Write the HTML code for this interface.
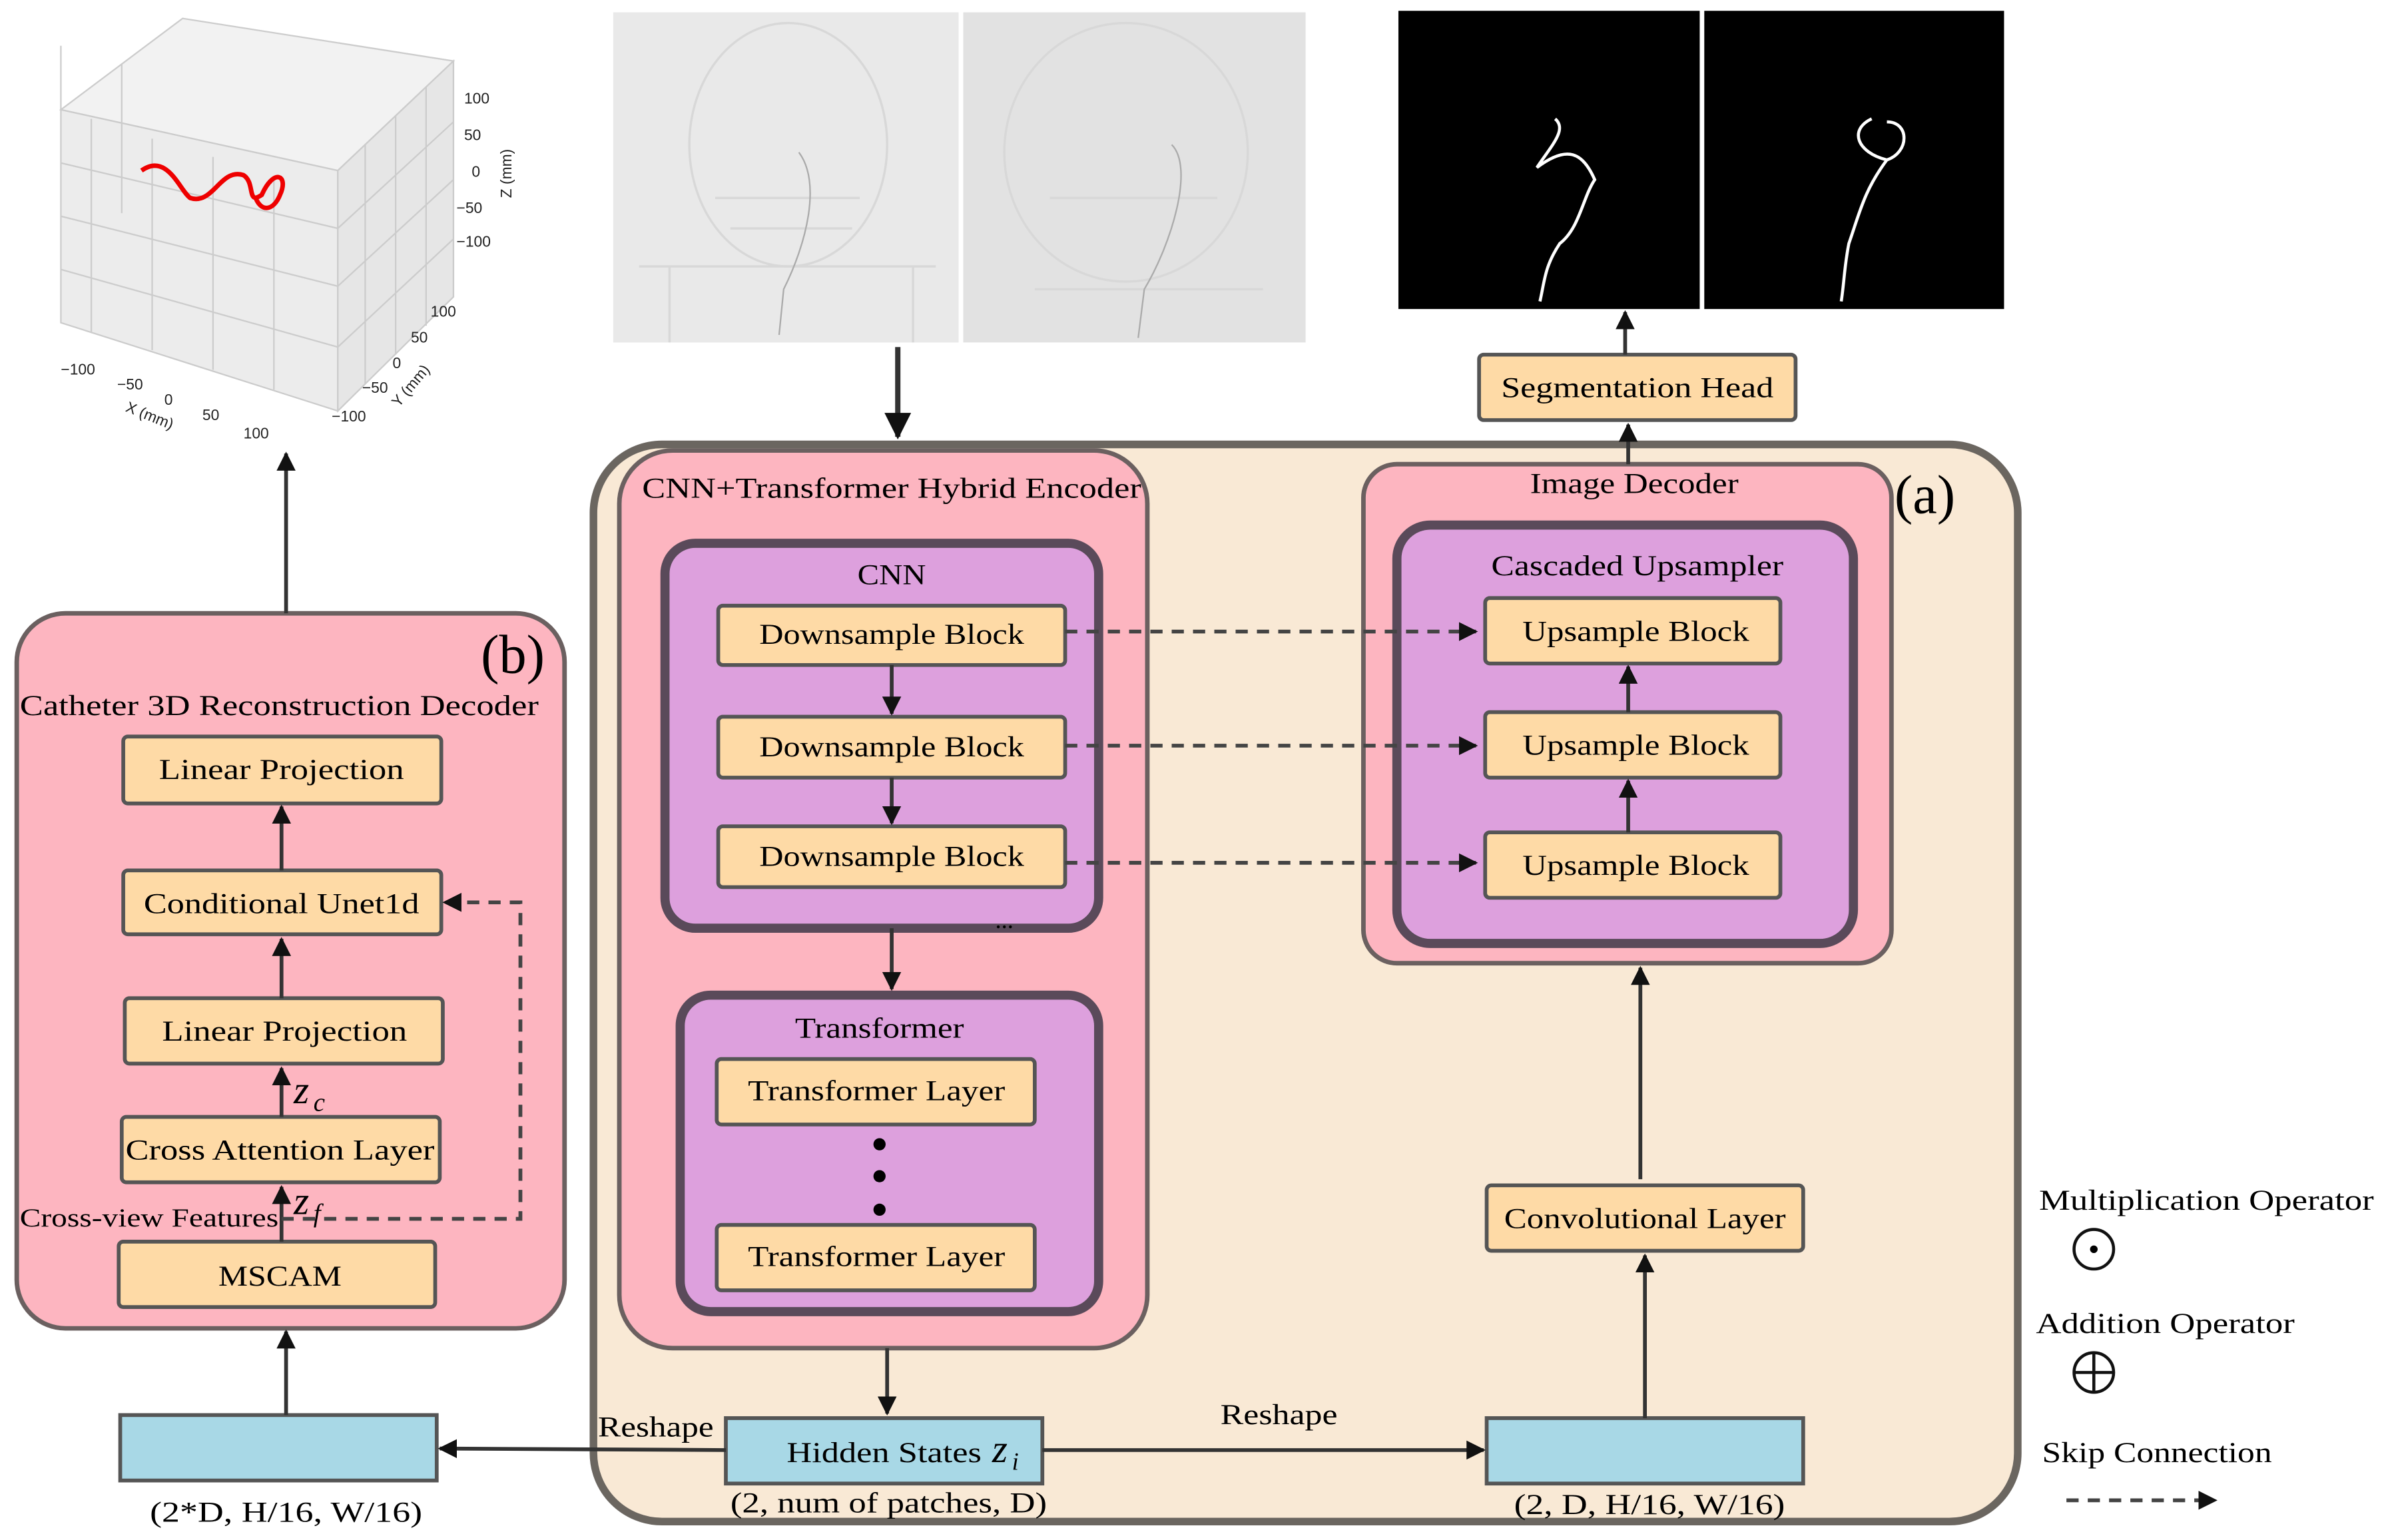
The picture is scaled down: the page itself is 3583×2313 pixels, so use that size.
<!DOCTYPE html>
<html><head><meta charset="utf-8"><style>
html,body{margin:0;padding:0;background:#fff;}
svg{display:block;}
text{font-family:"Liberation Serif",serif;}
</style></head><body>
<svg width="3583" height="2313" viewBox="0 0 1568 1012" xmlns="http://www.w3.org/2000/svg">
<defs>
<marker id="ah" viewBox="0 0 10 10" refX="9" refY="5" markerWidth="5" markerHeight="5" orient="auto"><path d="M0,0L10,5L0,10z" fill="#111"/></marker>
</defs>
<rect width="1568" height="1012" fill="#fff"/>

<!-- 3D plot -->
<g stroke="#ccc" stroke-width="1" fill="none">
<polygon points="40,72 120,12 298,40 222,112" fill="#f2f2f2"/>
<polygon points="40,72 40,212 222,270 222,112" fill="#ececec"/>
<polygon points="222,112 298,40 298,195 222,270" fill="#e6e6e6"/>
<line x1="60" y1="78" x2="60" y2="218"/><line x1="100" y1="91" x2="100" y2="230"/><line x1="140" y1="103" x2="140" y2="243"/><line x1="180" y1="116" x2="180" y2="256"/>
<line x1="40" y1="107" x2="222" y2="150"/><line x1="40" y1="142" x2="222" y2="188"/><line x1="40" y1="177" x2="222" y2="228"/>
<line x1="240" y1="95" x2="240" y2="252"/><line x1="260" y1="76" x2="260" y2="233"/><line x1="280" y1="57" x2="280" y2="214"/>
<line x1="222" y1="150" x2="298" y2="80"/><line x1="222" y1="188" x2="298" y2="118"/><line x1="222" y1="228" x2="298" y2="157"/>
<line x1="40" y1="72" x2="40" y2="30" /><line x1="80" y1="42" x2="80" y2="140"/>
</g>
<path d="M93,112 C110,100 118,125 125,130 C140,135 145,110 160,115 C168,120 162,135 172,128 C180,110 190,115 184,128 C180,138 172,140 168,130" stroke="#e00" stroke-width="3" fill="none"/>
<g font-size="10" fill="#222">
<text x="305" y="68" style="font-family:'Liberation Sans'">100</text><text x="305" y="92" style="font-family:'Liberation Sans'">50</text><text x="310" y="116" style="font-family:'Liberation Sans'">0</text><text x="300" y="140" style="font-family:'Liberation Sans'">−50</text><text x="300" y="162" style="font-family:'Liberation Sans'">−100</text>
<text x="40" y="246" style="font-family:'Liberation Sans'">−100</text><text x="77" y="256" style="font-family:'Liberation Sans'">−50</text><text x="108" y="266" style="font-family:'Liberation Sans'">0</text><text x="133" y="276" style="font-family:'Liberation Sans'">50</text><text x="160" y="288" style="font-family:'Liberation Sans'">100</text>
<text x="283" y="208" style="font-family:'Liberation Sans'">100</text><text x="270" y="225" style="font-family:'Liberation Sans'">50</text><text x="258" y="242" style="font-family:'Liberation Sans'">0</text><text x="238" y="258" style="font-family:'Liberation Sans'">−50</text><text x="218" y="277" style="font-family:'Liberation Sans'">−100</text>
<text x="82" y="270" transform="rotate(22 82 270)" style="font-family:'Liberation Sans'">X (mm)</text>
<text x="262" y="268" transform="rotate(-50 262 268)" style="font-family:'Liberation Sans'">Y (mm)</text>
<text x="336" y="130" transform="rotate(-90 336 130)" style="font-family:'Liberation Sans'">Z (mm)</text>
</g>

<!-- xray images -->
<rect x="403" y="8" width="227" height="217" fill="#e9e9e9"/>
<rect x="633" y="8" width="225" height="217" fill="#e2e2e2"/>
<g stroke="#d8d8d8" stroke-width="1.5" fill="none">
<ellipse cx="518" cy="95" rx="65" ry="80"/><path d="M440,175 L440,225 M600,175 L600,225 M420,175 L615,175"/>
<ellipse cx="740" cy="100" rx="80" ry="85"/><path d="M680,190 L830,190"/>
<path d="M470,130 L565,130 M480,150 L560,150 M690,130 L800,130"/>
</g>
<path d="M525,100 C540,120 530,160 515,190 L512,220" stroke="#aaa" fill="none"/>
<path d="M770,95 C785,110 770,160 752,190 L748,222" stroke="#aaa" fill="none"/>

<!-- masks -->
<rect x="919" y="7" width="198" height="196" fill="#000"/>
<rect x="1120" y="7" width="197" height="196" fill="#000"/>
<path d="M1022,78 C1030,85 1020,95 1010,110 C1030,95 1040,100 1048,118 C1040,130 1038,150 1025,160 C1015,175 1015,185 1012,198" stroke="#fff" stroke-width="2" fill="none"/>
<path d="M1230,78 C1215,85 1220,100 1240,105 C1255,100 1255,80 1240,80 M1240,105 C1225,125 1222,140 1215,160 C1212,175 1212,185 1210,198" stroke="#fff" stroke-width="2" fill="none"/>

<!-- big panel a -->
<rect x="390" y="292" width="936" height="708" rx="45" fill="#f9e9d5" stroke="#6b6660" stroke-width="5"/>
<text x="1245" y="337" font-size="36">(a)</text>

<!-- encoder -->
<rect x="407" y="296" width="347" height="590" rx="35" fill="#fdb5c0" stroke="#6b6060" stroke-width="3"/>
<text x="422" y="327" font-size="19" textLength="328" lengthAdjust="spacingAndGlyphs">CNN+Transformer Hybrid Encoder</text>
<rect x="437" y="357" width="285" height="253" rx="20" fill="#dda0dd" stroke="#5a4a5a" stroke-width="6"/>
<text x="586" y="384" font-size="19" text-anchor="middle" textLength="45" lengthAdjust="spacingAndGlyphs">CNN</text>
<g fill="#fedaa6" stroke="#555" stroke-width="2.5">
<rect x="472" y="398" width="228" height="39" rx="3"/>
<rect x="472" y="471" width="228" height="40" rx="3"/>
<rect x="472" y="543" width="228" height="40" rx="3"/>
</g>
<g font-size="19" text-anchor="middle">
<text x="586" y="423" textLength="174" lengthAdjust="spacingAndGlyphs">Downsample Block</text><text x="586" y="497" textLength="174" lengthAdjust="spacingAndGlyphs">Downsample Block</text><text x="586" y="569" textLength="174" lengthAdjust="spacingAndGlyphs">Downsample Block</text>
</g>
<text x="660" y="610" font-size="16" text-anchor="middle">...</text>
<rect x="447" y="654" width="275" height="208" rx="20" fill="#dda0dd" stroke="#5a4a5a" stroke-width="6"/>
<text x="578" y="682" font-size="19" text-anchor="middle" textLength="111" lengthAdjust="spacingAndGlyphs">Transformer</text>
<g fill="#fedaa6" stroke="#555" stroke-width="2.5">
<rect x="471" y="696" width="209" height="43" rx="3"/>
<rect x="471" y="805" width="209" height="43" rx="3"/>
</g>
<text x="576" y="723" font-size="19" text-anchor="middle" textLength="169" lengthAdjust="spacingAndGlyphs">Transformer Layer</text>
<text x="576" y="832" font-size="19" text-anchor="middle" textLength="169" lengthAdjust="spacingAndGlyphs">Transformer Layer</text>
<circle cx="578" cy="752" r="4"/><circle cx="578" cy="773" r="4"/><circle cx="578" cy="795" r="4"/>

<!-- hidden states -->
<rect x="477" y="932" width="208" height="43" fill="#a8d8e6" stroke="#555" stroke-width="2.5"/>
<text x="517" y="961" font-size="19" textLength="128" lengthAdjust="spacingAndGlyphs">Hidden States</text>
<text x="652" y="961" font-size="26" font-style="italic">z</text><text x="665" y="966" font-size="16" font-style="italic">i</text>
<text x="480" y="994" font-size="19" textLength="208" lengthAdjust="spacingAndGlyphs">(2, num of patches, D)</text>
<text x="393" y="944" font-size="19" textLength="76" lengthAdjust="spacingAndGlyphs">Reshape</text>
<text x="802" y="936" font-size="19" textLength="77" lengthAdjust="spacingAndGlyphs">Reshape</text>

<!-- decoder -->
<rect x="896" y="305" width="347" height="328" rx="22" fill="#fdb5c0" stroke="#6b6060" stroke-width="3"/>
<text x="1074" y="324" font-size="19" text-anchor="middle" textLength="137" lengthAdjust="spacingAndGlyphs">Image Decoder</text>
<rect x="918" y="345" width="300" height="275" rx="22" fill="#dda0dd" stroke="#5a4a5a" stroke-width="6"/>
<text x="1076" y="378" font-size="19" text-anchor="middle" textLength="192" lengthAdjust="spacingAndGlyphs">Cascaded Upsampler</text>
<g fill="#fedaa6" stroke="#555" stroke-width="2.5">
<rect x="976" y="393" width="194" height="43" rx="3"/>
<rect x="976" y="468" width="194" height="43" rx="3"/>
<rect x="976" y="547" width="194" height="43" rx="3"/>
<rect x="972" y="233" width="208" height="43" rx="3"/>
<rect x="977" y="779" width="208" height="43" rx="3"/>
</g>
<g font-size="19" text-anchor="middle">
<text x="1075" y="421" textLength="149" lengthAdjust="spacingAndGlyphs">Upsample Block</text><text x="1075" y="496" textLength="149" lengthAdjust="spacingAndGlyphs">Upsample Block</text><text x="1075" y="575" textLength="149" lengthAdjust="spacingAndGlyphs">Upsample Block</text>
<text x="1076" y="261" textLength="179" lengthAdjust="spacingAndGlyphs">Segmentation Head</text><text x="1081" y="807" textLength="185" lengthAdjust="spacingAndGlyphs">Convolutional Layer</text>
</g>
<rect x="977" y="932" width="208" height="43" fill="#a8d8e6" stroke="#555" stroke-width="2.5"/>
<text x="1084" y="995" font-size="19" text-anchor="middle" textLength="178" lengthAdjust="spacingAndGlyphs">(2, D, H/16, W/16)</text>

<!-- panel b -->
<rect x="11" y="403" width="360" height="470" rx="32" fill="#fdb5c0" stroke="#6b6060" stroke-width="3"/>
<text x="316" y="442" font-size="36">(b)</text>
<text x="13" y="470" font-size="19" textLength="341" lengthAdjust="spacingAndGlyphs">Catheter 3D Reconstruction Decoder</text>
<g fill="#fedaa6" stroke="#555" stroke-width="2.5">
<rect x="81" y="484" width="209" height="44" rx="3"/>
<rect x="81" y="572" width="209" height="42" rx="3"/>
<rect x="82" y="656" width="209" height="43" rx="3"/>
<rect x="80" y="734" width="209" height="43" rx="3"/>
<rect x="78" y="816" width="208" height="43" rx="3"/>
</g>
<g font-size="19" text-anchor="middle">
<text x="185" y="512" textLength="161" lengthAdjust="spacingAndGlyphs">Linear Projection</text><text x="185" y="600" textLength="181" lengthAdjust="spacingAndGlyphs">Conditional Unet1d</text><text x="187" y="684" textLength="161" lengthAdjust="spacingAndGlyphs">Linear Projection</text><text x="184" y="762" textLength="203" lengthAdjust="spacingAndGlyphs">Cross Attention Layer</text><text x="184" y="845" textLength="81" lengthAdjust="spacingAndGlyphs">MSCAM</text>
</g>
<text x="13" y="806" font-size="17" textLength="170" lengthAdjust="spacingAndGlyphs">Cross-view Features</text>
<text x="193" y="725" font-size="26" font-style="italic">z</text><text x="206" y="730" font-size="17" font-style="italic">c</text>
<text x="193" y="798" font-size="26" font-style="italic">z</text><text x="206" y="803" font-size="17" font-style="italic">f</text>
<rect x="79" y="930" width="208" height="43" fill="#a8d8e6" stroke="#555" stroke-width="2.5"/>
<text x="188" y="1000" font-size="19" text-anchor="middle" textLength="179" lengthAdjust="spacingAndGlyphs">(2*D, H/16, W/16)</text>

<!-- solid arrows -->
<g stroke="#333" stroke-width="2.5" fill="none" marker-end="url(#ah)">
<line x1="590" y1="228" x2="590" y2="287" stroke-width="3.5"/>
<line x1="586" y1="437" x2="586" y2="469"/>
<line x1="586" y1="511" x2="586" y2="541"/>
<line x1="586" y1="610" x2="586" y2="650"/>
<line x1="583" y1="886" x2="583" y2="929"/>
<line x1="685" y1="953" x2="975" y2="953"/>
<line x1="477" y1="953" x2="289" y2="952"/>
<line x1="1081" y1="932" x2="1081" y2="825"/>
<line x1="1078" y1="775" x2="1078" y2="636"/>
<line x1="1070" y1="305" x2="1070" y2="279"/>
<line x1="1068" y1="233" x2="1068" y2="205"/>
<line x1="1070" y1="547" x2="1070" y2="513"/>
<line x1="1070" y1="468" x2="1070" y2="438"/>
<line x1="188" y1="930" x2="188" y2="875"/>
<line x1="188" y1="403" x2="188" y2="298"/>
<line x1="185" y1="816" x2="185" y2="780"/>
<line x1="185" y1="734" x2="185" y2="702"/>
<line x1="185" y1="656" x2="185" y2="617"/>
<line x1="185" y1="572" x2="185" y2="530"/>
</g>
<!-- dashed -->
<g stroke="#444" stroke-width="2.5" fill="none" stroke-dasharray="8,6" marker-end="url(#ah)">
<line x1="700" y1="415" x2="970" y2="415"/>
<line x1="700" y1="490" x2="970" y2="490"/>
<line x1="700" y1="567" x2="970" y2="567"/>
<polyline points="185,801 342,801 342,593 292,593"/>
<line x1="1358" y1="986" x2="1456" y2="986"/>
</g>

<!-- legend -->
<text x="1340" y="795" font-size="19" textLength="220" lengthAdjust="spacingAndGlyphs">Multiplication Operator</text>
<circle cx="1376" cy="821" r="13" fill="none" stroke="#111" stroke-width="2"/><circle cx="1376" cy="821" r="2.5"/>
<text x="1338" y="876" font-size="19" textLength="170" lengthAdjust="spacingAndGlyphs">Addition Operator</text>
<circle cx="1376" cy="902" r="13" fill="none" stroke="#111" stroke-width="2"/>
<path d="M1363,902H1389M1376,889V915" stroke="#111" stroke-width="2"/>
<text x="1342" y="961" font-size="19" textLength="151" lengthAdjust="spacingAndGlyphs">Skip Connection</text>
</svg>
</body></html>
